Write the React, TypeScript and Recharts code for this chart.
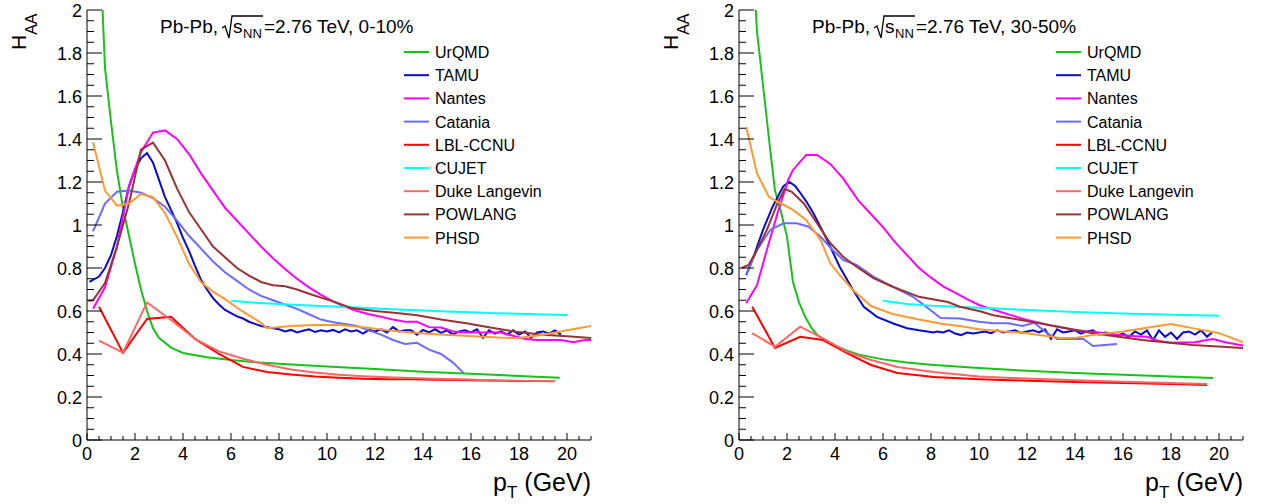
import React from 'react';
import { LineChart, Line, XAxis, YAxis, Legend } from 'recharts';

type Pt = [number, number];

const FONT = '"Liberation Sans", Arial, Helvetica, sans-serif';

const models = ['UrQMD', 'TAMU', 'Nantes', 'Catania', 'LBL-CCNU', 'CUJET', 'Duke Langevin', 'POWLANG', 'PHSD'];
const modelColors = ['#19c219', '#0a0acc', '#ff00ff', '#6b6bff', '#ff0000', '#00ffff', '#ff6666', '#993333', '#ff9933'];

// ---- 0-10% ----
const urqmdCentral: Pt[] = [
  [0.5, 2.4], [0.75, 1.73], [1, 1.48], [1.25, 1.25], [1.5, 1.08], [1.75, 0.95], [2, 0.82], [2.25, 0.7],
  [2.5, 0.6], [2.75, 0.52], [3, 0.475], [3.5, 0.43], [4, 0.405], [5, 0.385], [6, 0.372], [7, 0.362],
  [8, 0.355], [10, 0.342], [12, 0.33], [14, 0.318], [16, 0.308], [18, 0.298], [19.7, 0.29],
];
const tamuCentral: Pt[] = [
  [0.1, 0.735], [0.5, 0.76], [0.75, 0.8], [1, 0.86], [1.25, 0.95], [1.5, 1.06], [1.75, 1.18], [2, 1.26],
  [2.25, 1.31], [2.5, 1.335], [2.75, 1.29], [3, 1.21], [3.25, 1.13], [3.5, 1.07], [3.75, 1.01], [4, 0.94],
  [4.25, 0.88], [4.5, 0.81], [4.75, 0.745], [5, 0.7], [5.25, 0.66], [5.5, 0.63], [5.75, 0.605], [6, 0.59],
  [6.25, 0.575], [6.5, 0.565], [6.75, 0.55], [7, 0.54], [7.25, 0.53], [7.5, 0.525], [7.75, 0.52],
  [8, 0.515], [8.25, 0.505], [8.5, 0.512], [8.75, 0.5], [9, 0.508], [9.25, 0.515], [9.5, 0.503], [9.75, 0.51],
  [10, 0.505], [10.25, 0.512], [10.5, 0.5], [10.75, 0.515], [11, 0.505], [11.25, 0.51], [11.5, 0.495],
  [11.75, 0.512], [12, 0.505], [12.25, 0.515], [12.5, 0.5], [12.75, 0.525], [13, 0.505], [13.25, 0.51],
  [13.5, 0.51], [13.75, 0.49], [14, 0.512], [14.25, 0.5], [14.5, 0.515], [14.75, 0.498], [15, 0.51],
  [15.25, 0.49], [15.5, 0.505], [15.75, 0.51], [16, 0.5], [16.25, 0.515], [16.5, 0.475], [16.75, 0.51],
  [17, 0.495], [17.25, 0.505], [17.5, 0.49], [17.75, 0.51], [18, 0.49], [18.25, 0.505], [18.5, 0.475],
  [18.75, 0.5], [19, 0.505], [19.25, 0.495], [19.5, 0.51], [19.75, 0.49],
];
const nantesCentral: Pt[] = [
  [0.25, 0.61], [0.75, 0.71], [1.25, 0.9], [1.75, 1.18], [2.25, 1.34], [2.75, 1.43], [3.25, 1.44],
  [3.75, 1.4], [4.25, 1.33], [4.75, 1.24], [5.25, 1.16], [5.75, 1.08], [6.25, 1.02], [6.75, 0.96],
  [7.25, 0.9], [7.75, 0.845], [8.25, 0.795], [8.75, 0.75], [9.25, 0.71], [9.75, 0.675], [10.25, 0.645],
  [10.75, 0.62], [11.25, 0.6], [11.75, 0.585], [12.25, 0.573], [12.75, 0.56], [13.25, 0.55], [13.75, 0.55],
  [14.25, 0.525], [14.75, 0.523], [15.25, 0.505], [15.75, 0.5], [16.25, 0.5], [16.75, 0.5], [17.25, 0.5],
  [17.75, 0.485], [18.25, 0.47], [18.75, 0.465], [19.25, 0.465], [19.75, 0.465], [20.25, 0.455],
  [20.75, 0.465], [21, 0.465],
];
const cataniaCentral: Pt[] = [
  [0.25, 0.97], [0.75, 1.1], [1.25, 1.155], [1.75, 1.16], [2.25, 1.15], [2.75, 1.125], [3.25, 1.085],
  [3.75, 1.02], [4.25, 0.95], [4.75, 0.89], [5.25, 0.83], [5.75, 0.78], [6.25, 0.74], [6.75, 0.7],
  [7.25, 0.67], [7.75, 0.65], [8.25, 0.63], [8.75, 0.61], [9.25, 0.585], [9.75, 0.56], [10.25, 0.548],
  [10.75, 0.54], [11.25, 0.53], [11.75, 0.51], [12.25, 0.49], [12.75, 0.465], [13.25, 0.447],
  [13.75, 0.452], [14.25, 0.42], [14.75, 0.4], [15.25, 0.36], [15.7, 0.31],
];
const lblCentral: Pt[] = [
  [0.5, 0.62], [1.5, 0.405], [2.5, 0.563], [3.5, 0.573], [4.5, 0.47], [5.5, 0.4], [6.5, 0.34], [7.5, 0.316],
  [8.5, 0.305], [9.5, 0.295], [10.5, 0.29], [11.5, 0.285], [12.5, 0.283], [13.5, 0.282], [14.5, 0.28],
  [15.5, 0.279], [16.5, 0.277], [17.5, 0.275], [18.5, 0.274], [19.5, 0.273],
];
const cujetCentral: Pt[] = [
  [6, 0.648], [7, 0.638], [8, 0.632], [9, 0.627], [10, 0.622], [11, 0.617], [12, 0.612], [13, 0.607],
  [14, 0.602], [15, 0.598], [16, 0.594], [17, 0.59], [18, 0.587], [19, 0.584], [20, 0.581],
];
const dukeCentral: Pt[] = [
  [0.5, 0.462], [1.5, 0.406], [2.5, 0.64], [3.5, 0.558], [4.5, 0.47], [5.5, 0.412], [6.5, 0.378],
  [7.5, 0.35], [8.5, 0.328], [9.5, 0.314], [10.5, 0.304], [11.5, 0.297], [12.5, 0.292], [13.5, 0.288],
  [14.5, 0.285], [15.5, 0.282], [16.5, 0.279], [17.5, 0.277], [18.5, 0.275], [19.5, 0.274],
];
const powlangCentral: Pt[] = [
  [0.05, 0.648], [0.25, 0.65], [0.75, 0.73], [1.25, 0.9], [1.75, 1.1], [2.25, 1.35], [2.75, 1.383],
  [3.25, 1.3], [3.75, 1.17], [4.25, 1.06], [4.75, 0.98], [5.25, 0.9], [5.75, 0.85], [6.25, 0.8],
  [6.75, 0.765], [7.25, 0.735], [7.75, 0.72], [8.25, 0.715], [8.75, 0.7], [9.25, 0.68], [9.75, 0.662],
  [10.25, 0.645], [11, 0.614], [12, 0.6], [13, 0.59], [13.75, 0.58], [14.75, 0.56], [15.8, 0.543],
  [16.8, 0.523], [17.9, 0.503], [19, 0.49], [20, 0.482], [21, 0.474],
];
const phsdCentral: Pt[] = [
  [0.25, 1.385], [0.75, 1.16], [1.25, 1.09], [1.75, 1.1], [2.25, 1.144], [2.75, 1.13], [3.25, 1.055],
  [3.75, 0.945], [4.25, 0.82], [4.75, 0.735], [5.25, 0.69], [5.75, 0.655], [6.25, 0.615], [6.75, 0.58],
  [7.25, 0.545], [7.5, 0.52], [8.5, 0.53], [9.5, 0.535], [10.5, 0.535], [11.5, 0.525], [12.5, 0.51],
  [13.5, 0.5], [14.5, 0.492], [15.5, 0.486], [16.5, 0.48], [17.5, 0.475], [18, 0.474], [19, 0.49],
  [20, 0.51], [21, 0.53],
];

// ---- 30-50% ----
const urqmdSemi: Pt[] = [
  [0.5, 2.4], [0.75, 1.9], [1, 1.65], [1.25, 1.4], [1.5, 1.16], [1.75, 1.06], [2, 0.945], [2.25, 0.735],
  [2.5, 0.64], [2.75, 0.575], [3, 0.525], [3.25, 0.49], [3.5, 0.47], [4, 0.44], [4.5, 0.415], [5, 0.397],
  [6, 0.375], [7, 0.36], [8, 0.35], [10, 0.335], [12, 0.322], [14, 0.312], [16, 0.303], [18, 0.295],
  [19.75, 0.288],
];
const tamuSemi: Pt[] = [
  [0.3, 0.767], [0.6, 0.85], [1, 0.977], [1.4, 1.085], [1.7, 1.15], [1.85, 1.18], [2.1, 1.2], [2.35, 1.18],
  [2.55, 1.15], [2.8, 1.11], [3.1, 1.055], [3.4, 0.99], [3.67, 0.93], [4.2, 0.805], [4.75, 0.698],
  [5.2, 0.62], [5.75, 0.573], [6.4, 0.543], [7, 0.52], [7.5, 0.51], [8.1, 0.5],
  [8.25, 0.505], [8.5, 0.5], [8.75, 0.51], [9, 0.495], [9.25, 0.488], [9.5, 0.5], [9.75, 0.495], [10, 0.5],
  [10.25, 0.505], [10.5, 0.497], [10.75, 0.51], [11, 0.5], [11.25, 0.505], [11.5, 0.51], [11.75, 0.498],
  [12, 0.505], [12.25, 0.51], [12.5, 0.5], [12.75, 0.515], [13, 0.47], [13.25, 0.515], [13.5, 0.5],
  [13.75, 0.505], [14, 0.51], [14.25, 0.495], [14.5, 0.505], [14.75, 0.51], [15, 0.49], [15.25, 0.5],
  [15.5, 0.495], [15.75, 0.485], [16, 0.495], [16.25, 0.48], [16.5, 0.505], [16.75, 0.49], [17, 0.51],
  [17.25, 0.465], [17.5, 0.51], [17.75, 0.48], [18, 0.5], [18.25, 0.47], [18.5, 0.5], [18.75, 0.505],
  [19, 0.49], [19.25, 0.51], [19.5, 0.48], [19.75, 0.505],
];
const nantesSemi: Pt[] = [
  [0.3, 0.636], [0.75, 0.72], [1.15, 0.88], [1.6, 1.053], [2.05, 1.21], [2.25, 1.256], [2.8, 1.326],
  [3.25, 1.326], [3.8, 1.284], [4.33, 1.218], [4.96, 1.116], [5.5, 1.05], [6, 0.99], [6.5, 0.92], [7, 0.86],
  [7.5, 0.8], [8, 0.755], [8.5, 0.715], [9, 0.685], [9.5, 0.655], [10, 0.628], [10.5, 0.61], [11, 0.592],
  [11.5, 0.575], [12, 0.558], [12.5, 0.545], [13, 0.532], [13.5, 0.522], [14, 0.512], [14.5, 0.505],
  [15, 0.5], [15.5, 0.492], [16, 0.487], [16.5, 0.483], [17, 0.48], [17.5, 0.46], [18, 0.452],
  [18.5, 0.453], [19, 0.455], [19.5, 0.465], [19.75, 0.47], [20.25, 0.455], [21, 0.44],
];
const cataniaSemi: Pt[] = [
  [0.3, 0.767], [0.75, 0.884], [1.3, 0.977], [1.85, 1.008], [2.4, 1.008], [2.9, 0.992], [3.4, 0.945],
  [3.9, 0.884], [4.35, 0.837], [4.9, 0.814], [5.6, 0.76], [6.4, 0.713], [7.25, 0.666], [7.8, 0.62],
  [8.4, 0.567], [9.2, 0.565], [10, 0.55], [10.6, 0.543], [11.25, 0.543], [11.8, 0.53], [12.3, 0.545],
  [12.8, 0.5], [13.25, 0.47], [14.35, 0.47], [14.75, 0.437], [15.75, 0.446],
];
const lblSemi: Pt[] = [
  [0.55, 0.62], [1.5, 0.428], [2.55, 0.48], [3.5, 0.465], [4.5, 0.404], [5.5, 0.349], [6.6, 0.312],
  [8.1, 0.293], [10, 0.283], [12, 0.276], [14, 0.27], [16, 0.265], [18, 0.26], [19.5, 0.256],
];
const cujetSemi: Pt[] = [
  [6, 0.648], [7, 0.633], [8, 0.625], [9, 0.62], [10, 0.615], [12, 0.605], [14, 0.595], [16, 0.588],
  [18, 0.582], [20, 0.578],
];
const dukeSemi: Pt[] = [
  [0.55, 0.497], [1.5, 0.434], [2.55, 0.527], [3.5, 0.473], [4.5, 0.41], [5.5, 0.372], [6.6, 0.34],
  [8.1, 0.316], [10, 0.295], [12, 0.286], [14, 0.278], [16, 0.271], [18, 0.265], [19.5, 0.26],
];
const powlangSemi: Pt[] = [
  [0.12, 0.8], [0.4, 0.814], [0.75, 0.884], [1.16, 0.977], [1.6, 1.1], [1.9, 1.167], [2.2, 1.154],
  [2.7, 1.1], [3.25, 1.008], [3.8, 0.916], [4.35, 0.851], [4.9, 0.806], [5.6, 0.753], [6.4, 0.713],
  [7.5, 0.666], [8.7, 0.642], [9.2, 0.62], [10, 0.6], [10.6, 0.58], [12.7, 0.54], [14.75, 0.497],
  [16.8, 0.465], [18.9, 0.442], [21, 0.428],
];
const phsdSemi: Pt[] = [
  [0.3, 1.456], [0.75, 1.24], [1.25, 1.13], [1.75, 1.1], [2.25, 1.07], [2.8, 1.023], [3.4, 0.93],
  [3.8, 0.823], [4.25, 0.76], [4.75, 0.698], [5.5, 0.623], [6.4, 0.586], [7.5, 0.56], [8.5, 0.54],
  [9.2, 0.53], [10, 0.515], [11, 0.505], [12, 0.497], [13.4, 0.474], [14, 0.475], [14.75, 0.488],
  [16, 0.505], [17, 0.522], [18, 0.54], [19, 0.518], [20, 0.497], [21, 0.456],
];

const centralSets = [urqmdCentral, tamuCentral, nantesCentral, cataniaCentral, lblCentral, cujetCentral, dukeCentral, powlangCentral, phsdCentral];
const semiSets = [urqmdSemi, tamuSemi, nantesSemi, cataniaSemi, lblSemi, cujetSemi, dukeSemi, powlangSemi, phsdSemi];

const xTicks = Array.from({ length: 43 }, (_, i) => i / 2);
const yTicks = Array.from({ length: 41 }, (_, i) => i / 20);

const toRows = (pts: Pt[]) => pts.map(([pt, h]) => ({ pt, h }));

const isMajorX = (v: number) => Math.round(v * 2) % 4 === 0;
const isMajorY = (v: number) => Math.round(v * 20) % 4 === 0;
const fmt = (v: number) => String(Number(v.toFixed(2)));

function BottomTick(props: any) {
  const { x, y, payload } = props;
  const v = payload.value;
  const major = isMajorX(v);
  return (
    <g>
      <line x1={x} y1={y} x2={x} y2={y - (major ? 7 : 4)} stroke="#000" />
      {major && (
        <text x={x} y={y + 20} textAnchor="middle" fontSize={18} fontFamily={FONT} fill="#000">
          {fmt(v)}
        </text>
      )}
    </g>
  );
}

function TopTick(props: any) {
  const { x, y, payload } = props;
  const major = isMajorX(payload.value);
  return <line x1={x} y1={y} x2={x} y2={y + (major ? 7 : 4)} stroke="#000" />;
}

function LeftTick(props: any) {
  const { x, y, payload } = props;
  const v = payload.value;
  const major = isMajorY(v);
  return (
    <g>
      <line x1={x} y1={y} x2={x + (major ? 15 : 7)} y2={y} stroke="#000" />
      {major && (
        <text x={x - 5} y={y + 6.5} textAnchor="end" fontSize={18} fontFamily={FONT} fill="#000">
          {fmt(v)}
        </text>
      )}
    </g>
  );
}

function RightTick(props: any) {
  const { x, y, payload } = props;
  const major = isMajorY(payload.value);
  return <line x1={x} y1={y} x2={x - (major ? 15 : 7)} y2={y} stroke="#000" />;
}

function ModelLegend() {
  return (
    <svg width={180} height={215}>
      {models.map((m, i) => {
        const cy = 12 + i * 23.2;
        return (
          <g key={m}>
            <line x1={0} x2={25} y1={cy} y2={cy} stroke={modelColors[i]} strokeWidth={2} />
            <text x={31} y={cy + 6} fontSize={16} fontFamily={FONT} fill="#000">
              {m}
            </text>
          </g>
        );
      })}
    </svg>
  );
}

function Panel({ left, centrality, sets }: { left: number; centrality: string; sets: Pt[][] }) {
  return (
    <div style={{ position: 'absolute', left, top: 0, width: 604, height: 504 }}>
      <LineChart width={604} height={504} margin={{ top: 10, right: 20, bottom: 0, left: 0 }}>
        <XAxis
          xAxisId="b"
          orientation="bottom"
          type="number"
          dataKey="pt"
          domain={[0, 21]}
          ticks={xTicks}
          interval={0}
          allowDataOverflow
          tickSize={0}
          tickMargin={0}
          tickLine={false}
          tick={BottomTick}
          height={64}
          axisLine={{ stroke: '#000' }}
        />
        <XAxis
          xAxisId="t"
          orientation="top"
          type="number"
          domain={[0, 21]}
          ticks={xTicks}
          interval={0}
          allowDataOverflow
          tickSize={0}
          tickMargin={0}
          tickLine={false}
          tick={TopTick}
          height={0}
          axisLine={{ stroke: '#000' }}
        />
        <YAxis
          yAxisId="l"
          orientation="left"
          type="number"
          domain={[0, 2]}
          ticks={yTicks}
          interval={0}
          allowDataOverflow
          tickSize={0}
          tickMargin={0}
          tickLine={false}
          tick={LeftTick}
          width={80}
          axisLine={{ stroke: '#000' }}
        />
        <YAxis
          yAxisId="r"
          orientation="right"
          type="number"
          domain={[0, 2]}
          ticks={yTicks}
          interval={0}
          allowDataOverflow
          tickSize={0}
          tickMargin={0}
          tickLine={false}
          tick={RightTick}
          width={0}
          axisLine={{ stroke: '#000' }}
        />
        {sets.map((pts, i) => (
          <Line
            key={models[i]}
            xAxisId="b"
            yAxisId="l"
            data={toRows(pts)}
            dataKey="h"
            name={models[i]}
            type="linear"
            stroke={modelColors[i]}
            strokeWidth={2}
            dot={false}
            activeDot={false}
            isAnimationActive={false}
          />
        ))}
        <Legend
          layout="vertical"
          align="center"
          verticalAlign="middle"
          content={() => <ModelLegend />}
          wrapperStyle={{ left: 397, top: 40, width: 180, height: 215 }}
        />
      </LineChart>
      <svg
        width={604}
        height={504}
        style={{ position: 'absolute', left: 0, top: 0, pointerEvents: 'none' }}
        fontFamily={FONT}
      >
        <text x={19} y={50} fontSize={21} transform="rotate(-90 19 50)" fill="#000">
          H
          <tspan fontSize={16} dy={11}>
            AA
          </tspan>
        </text>
        <text x={153} y={33} fontSize={19} fill="#000">
          Pb-Pb,
        </text>
        <path d="M215 28 L218 26 L222 38 L225 16 L256 16" fill="none" stroke="#000" strokeWidth={1.3} />
        <text x={226} y={33} fontSize={19} fill="#000">
          s
        </text>
        <text x={236} y={38} fontSize={13} fill="#000">
          NN
        </text>
        <text x={257} y={33} fontSize={19} fill="#000">
          =2.76 TeV, {centrality}
        </text>
        <text x={584} y={491} fontSize={25} textAnchor="end" fill="#000">
          p
          <tspan fontSize={17} dy={7}>
            T
          </tspan>
          <tspan dy={-7}> (GeV)</tspan>
        </text>
      </svg>
    </div>
  );
}

export default function App() {
  return (
    <div style={{ position: 'absolute', left: 0, top: 0, width: 1264, height: 504, background: '#fff' }}>
      <Panel left={7} centrality="0-10%" sets={centralSets} />
      <Panel left={659} centrality="30-50%" sets={semiSets} />
    </div>
  );
}
